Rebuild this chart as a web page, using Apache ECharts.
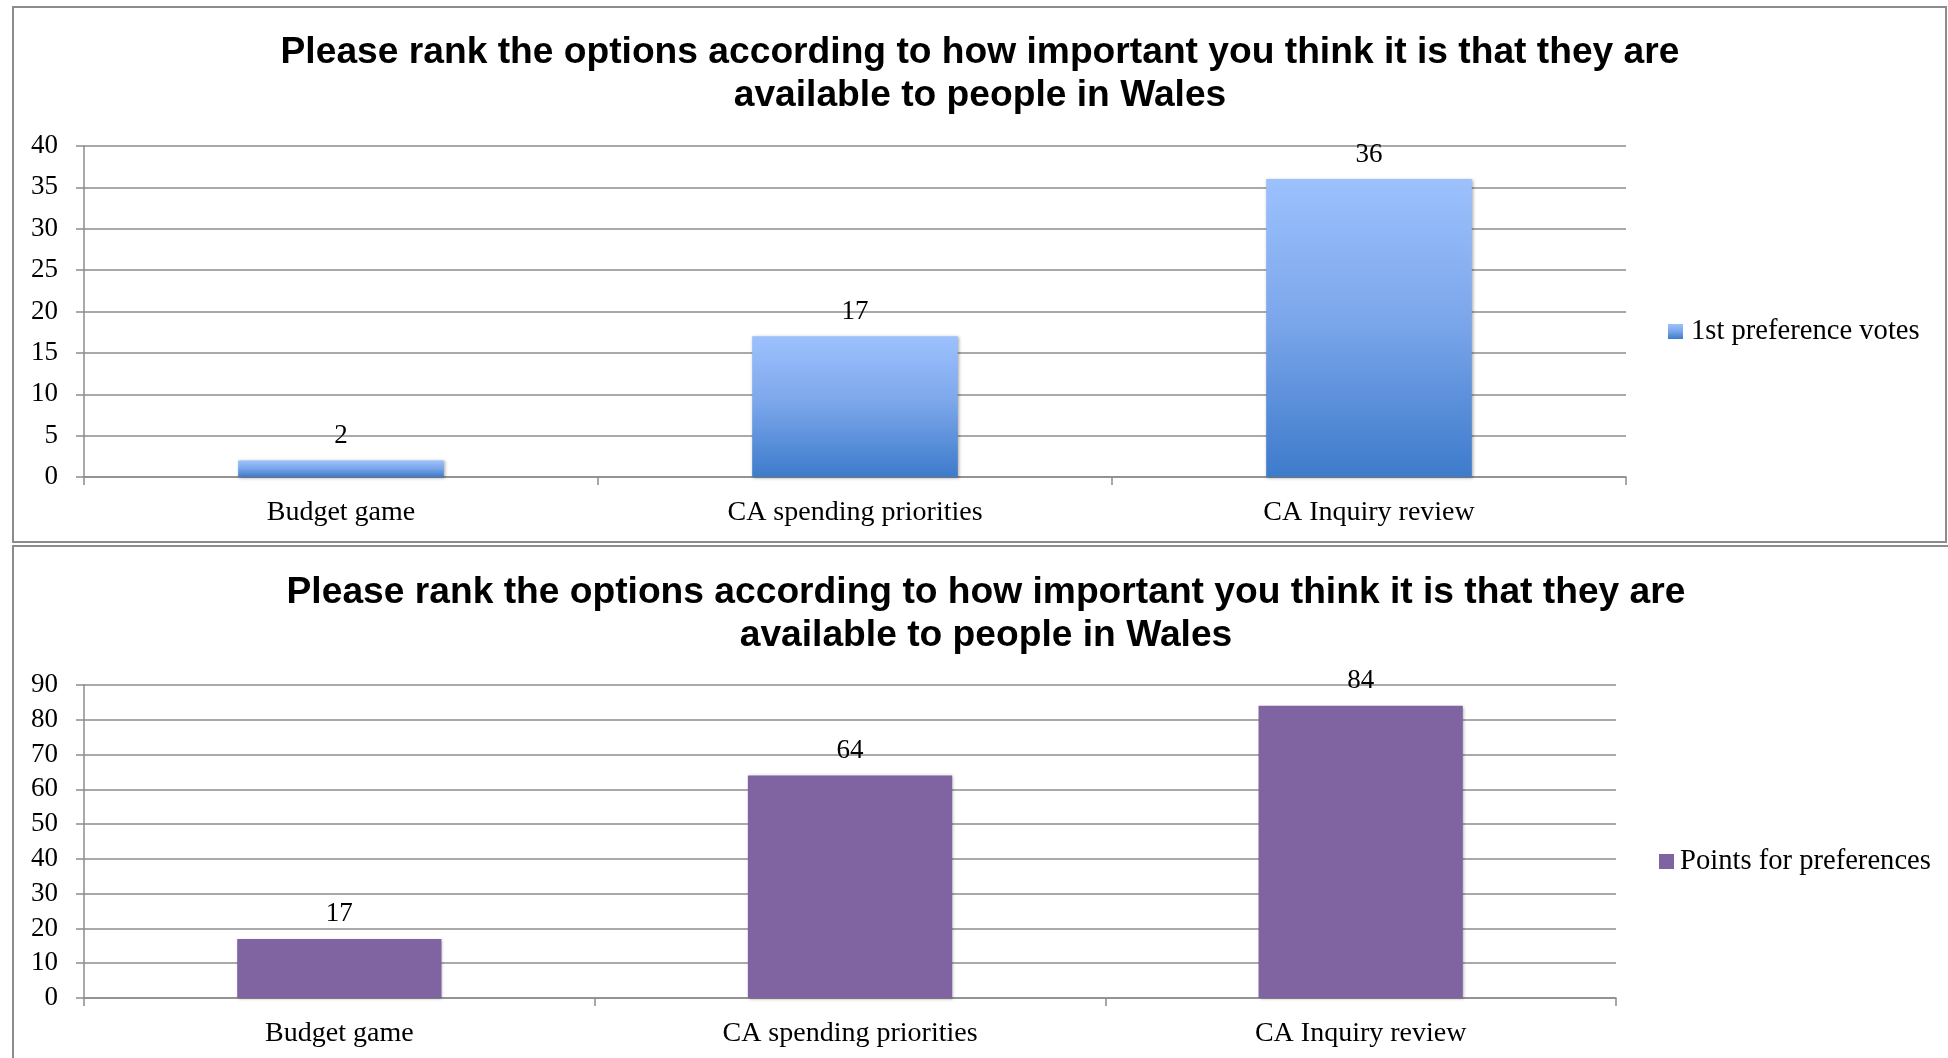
<!DOCTYPE html>
<html>
<head>
<meta charset="utf-8">
<title>Please rank the options</title>
<script src="https://cdn.jsdelivr.net/npm/echarts@6/dist/echarts.min.js"></script>
<style>
  html, body { margin: 0; padding: 0; background: #ffffff; }
  #chart { width: 1948px; height: 1058px; }
</style>
</head>
<body>
<div id="chart"></div>
<script>
// Options being ranked
const categories = ['Budget game', 'CA spending priorities', 'CA Inquiry review'];

// Upper panel: first-preference votes
const voteSeriesName = '1st preference votes';
const firstPreferenceVotes = [2, 17, 36];
const voteAxisMin = 0, voteAxisMax = 40, voteAxisStep = 5;

// Lower panel: points for preferences
const pointSeriesName = 'Points for preferences';
const preferencePoints = [17, 64, 84];
const pointAxisMin = 0, pointAxisMax = 90, pointAxisStep = 10;

const panelTitle = 'Please rank the options according to how important you think it is that they are\navailable to people in Wales';

const serif = '"Liberation Serif", "DejaVu Serif", serif';
const sans = '"Liberation Sans", Arial, sans-serif';
const gridGray = '#8c8c8c';

const chart = echarts.init(document.getElementById('chart'), null, { renderer: 'canvas' });

function titleFor(centerX, top) {
  return {
    text: panelTitle,
    left: centerX,
    top: top,
    textAlign: 'center',
    textVerticalAlign: 'top',
    padding: 0,
    textStyle: { fontFamily: sans, fontWeight: 'bold', fontSize: 37.2, lineHeight: 43, color: '#000' }
  };
}

function xAxisFor(gridIndex) {
  return {
    type: 'category', gridIndex: gridIndex, data: categories,
    axisLine: { show: true, lineStyle: { color: gridGray, width: 1.5 } },
    axisTick: { show: true, alignWithLabel: false, length: 8, lineStyle: { color: gridGray, width: 1.5 } },
    axisLabel: { margin: 22, fontFamily: serif, fontSize: 28, color: '#000' },
    splitLine: { show: false }
  };
}

function yAxisFor(gridIndex, min, max, step) {
  return {
    type: 'value', gridIndex: gridIndex, min: min, max: max, interval: step,
    axisLine: { show: true, lineStyle: { color: gridGray, width: 1.5 } },
    axisTick: { show: true, length: 8, lineStyle: { color: gridGray, width: 1.5 } },
    axisLabel: { margin: 26, fontFamily: serif, fontSize: 27, color: '#000' },
    splitLine: { show: true, lineStyle: { color: gridGray, width: 1.5 } }
  };
}

const barLabel = { show: true, position: 'top', distance: 11, fontFamily: serif, fontSize: 27, color: '#000' };
const barShadow = { shadowColor: 'rgba(0,0,0,0.35)', shadowBlur: 3, shadowOffsetX: 1, shadowOffsetY: 1 };

const blueFill = new echarts.graphic.LinearGradient(0, 0, 0, 1, [
  { offset: 0, color: '#9cc1fd' },
  { offset: 0.45, color: '#7ea8ec' },
  { offset: 1, color: '#3d7bcb' }
]);

const option = {
  backgroundColor: '#ffffff',
  animation: false,
  graphic: [
    { type: 'rect', shape: { x: 13, y: 7, width: 1933, height: 535 },
      style: { fill: 'none', stroke: gridGray, lineWidth: 2 }, z: -1 },
    { type: 'rect', shape: { x: 13, y: 546, width: 1960, height: 600 },
      style: { fill: 'none', stroke: gridGray, lineWidth: 2 }, z: -1 }
  ],
  title: [titleFor(980, 31), titleFor(986, 571)],
  legend: [
    { data: [voteSeriesName], left: 1668, top: 317, orient: 'vertical', icon: 'rect',
      itemWidth: 15, itemHeight: 15, padding: 0,
      textStyle: { fontFamily: serif, fontSize: 28.6, color: '#000', padding: [0, 0, 0, 3] } },
    { data: [pointSeriesName], left: 1659, top: 847, orient: 'vertical', icon: 'rect',
      itemWidth: 15, itemHeight: 15, padding: 0,
      textStyle: { fontFamily: serif, fontSize: 28.6, color: '#000', padding: [0, 0, 0, 1] } }
  ],
  grid: [
    { left: 84, right: 322, top: 146, height: 331, containLabel: false },
    { left: 84, right: 332, top: 685, height: 313, containLabel: false }
  ],
  xAxis: [xAxisFor(0), xAxisFor(1)],
  yAxis: [
    yAxisFor(0, voteAxisMin, voteAxisMax, voteAxisStep),
    yAxisFor(1, pointAxisMin, pointAxisMax, pointAxisStep)
  ],
  series: [
    { name: voteSeriesName, type: 'bar', xAxisIndex: 0, yAxisIndex: 0,
      data: firstPreferenceVotes, barWidth: '40%',
      itemStyle: Object.assign({ color: blueFill }, barShadow), label: barLabel },
    { name: pointSeriesName, type: 'bar', xAxisIndex: 1, yAxisIndex: 1,
      data: preferencePoints, barWidth: '40%',
      itemStyle: Object.assign({ color: '#8064a2' }, barShadow), label: barLabel }
  ]
};

chart.setOption(option);
</script>
</body>
</html>
